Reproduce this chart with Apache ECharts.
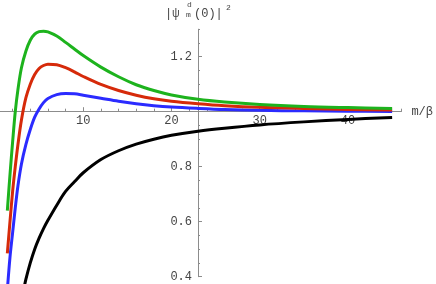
<!DOCTYPE html>
<html>
<head>
<meta charset="utf-8">
<script src="https://cdn.jsdelivr.net/npm/echarts@6/dist/echarts.min.js"></script>
<style>html,body{margin:0;padding:0;background:#fff}#c{width:436px;height:284px}</style>
</head>
<body>
<div id="c"></div>
<script>
// m/beta sample points
var xs    = [1.4, 1.7, 2.0, 2.3, 2.6, 3.0, 3.5, 4.0, 4.5, 5.0, 5.5, 6.0, 7.0, 8.0, 9.0, 10, 12, 14, 16, 18, 20, 23, 26, 30, 35, 40, 45];
var green = [0.64, 0.77, 0.89, 1.00, 1.08, 1.16, 1.22, 1.26, 1.282, 1.291, 1.293, 1.29, 1.275, 1.252, 1.228, 1.204, 1.162, 1.127, 1.098, 1.077, 1.061, 1.045, 1.035, 1.026, 1.019, 1.015, 1.012];
var red   = [0.485, 0.60, 0.71, 0.80, 0.88, 0.97, 1.05, 1.10, 1.135, 1.157, 1.168, 1.173, 1.171, 1.160, 1.145, 1.128, 1.099, 1.077, 1.060, 1.047, 1.038, 1.029, 1.022, 1.016, 1.012, 1.008, 1.006];
var blue  = [0.35, 0.47, 0.56, 0.65, 0.73, 0.81, 0.88, 0.935, 0.98, 1.01, 1.033, 1.048, 1.062, 1.066, 1.065, 1.060, 1.049, 1.038, 1.029, 1.022, 1.017, 1.012, 1.008, 1.005, 1.003, 1.002, 1.001];
var blackX = [3.3, 3.5, 4.0, 4.5, 5.0, 5.5, 6.0, 7.0, 8.0, 9.0, 10, 12, 14, 16, 18, 20, 23, 26, 30, 35, 40, 45];
var black  = [0.36, 0.39, 0.45, 0.50, 0.54, 0.575, 0.605, 0.66, 0.71, 0.745, 0.778, 0.826, 0.858, 0.882, 0.900, 0.914, 0.929, 0.940, 0.952, 0.963, 0.972, 0.979];
var xMajor = [10, 20, 30, 40];
var xMinor = [2, 4, 6, 8, 12, 14, 16, 18, 22, 24, 26, 28, 32, 34, 36, 38, 42, 44, 46];
var yLabels = [0.4, 0.6, 0.8, 1.2];
var yMajor = [0.4, 0.6, 0.8, 1.0, 1.2];
var yMinor = [0.45, 0.5, 0.55, 0.65, 0.7, 0.75, 0.85, 0.9, 0.95, 1.05, 1.1, 1.15, 1.25, 1.3];

function pairs(x, y) { return x.map(function (v, i) { return [v, y[i]]; }); }

var XMIN = 0.57, XMAX = 46.05, YMIN = 0.4, YMAX = 1.3;
var font = 'Liberation Mono';
var axisCol = '#8c8c8c';

var chart = echarts.init(document.getElementById('c'), null, {renderer: 'canvas'});
function xa(ticks, len, showLabels, showLine) {
  return {
    type: 'value', min: XMIN, max: XMAX, position: 'bottom', offset: -165,
    axisLine: {show: showLine, lineStyle: {color: axisCol, width: 1}},
    axisTick: {show: true, inside: true, length: len, customValues: ticks, lineStyle: {color: axisCol}},
    axisLabel: {show: showLabels, customValues: xMajor, margin: 3, fontFamily: font, fontSize: 12, color: '#444'},
    splitLine: {show: false},
    name: showLabels ? 'm/\u03b2' : '', nameLocation: 'end', nameGap: 10,
    nameTextStyle: {fontFamily: font, fontSize: 12, color: '#444', verticalAlign: 'middle'}
  };
}
function ya(ticks, len, showLabels, showLine) {
  return {
    type: 'value', min: YMIN, max: YMAX, position: 'left', offset: -198,
    axisLine: {show: showLine, lineStyle: {color: axisCol, width: 1}},
    axisTick: {show: true, inside: true, length: len, customValues: ticks, lineStyle: {color: axisCol}},
    axisLabel: {show: showLabels, customValues: yLabels, margin: 6, fontFamily: font, fontSize: 12, color: '#444',
      formatter: function (v) { return v.toFixed(1); }},
    splitLine: {show: false}
  };
}
function line(data, color) {
  return {type: 'line', data: data, xAxisIndex: 0, yAxisIndex: 0, showSymbol: false, symbol: 'none',
    smooth: 0.35, clip: false, sampling: null,
    lineStyle: {color: color, width: 3, join: 'round', cap: 'butt'}, animation: false};
}
chart.setOption({
  animation: false,
  grid: {left: 0, top: 29.2, width: 401.8, height: 247.5, containLabel: false},
  xAxis: [xa(xMajor, 4.5, true, true), xa(xMinor, 3, false, false)],
  yAxis: [ya(yMajor, 4, true, true), ya(yMinor, 2, false, false)],
  series: [
    line(pairs(blackX, black), '#000000'),
    line(pairs(xs, blue), '#2b2bff'),
    line(pairs(xs, red), '#d62a0a'),
    line(pairs(xs, green), '#1db31d')
  ],
  graphic: [
    {type: 'text', left: 165, top: 8, style: {text: '|\u03c8', font: '12px "Liberation Mono"', fill: '#444'}},
    {type: 'text', left: 187, top: 1, style: {text: 'd', font: '8px "Liberation Mono"', fill: '#444'}},
    {type: 'text', left: 186, top: 11, style: {text: 'm', font: '8px "Liberation Mono"', fill: '#444'}},
    {type: 'text', left: 194, top: 8, style: {text: '(0)|', font: '12px "Liberation Mono"', fill: '#444'}},
    {type: 'text', left: 226, top: 4, style: {text: '2', font: '8px "Liberation Mono"', fill: '#444'}}
  ]
});
</script>
</body>
</html>
